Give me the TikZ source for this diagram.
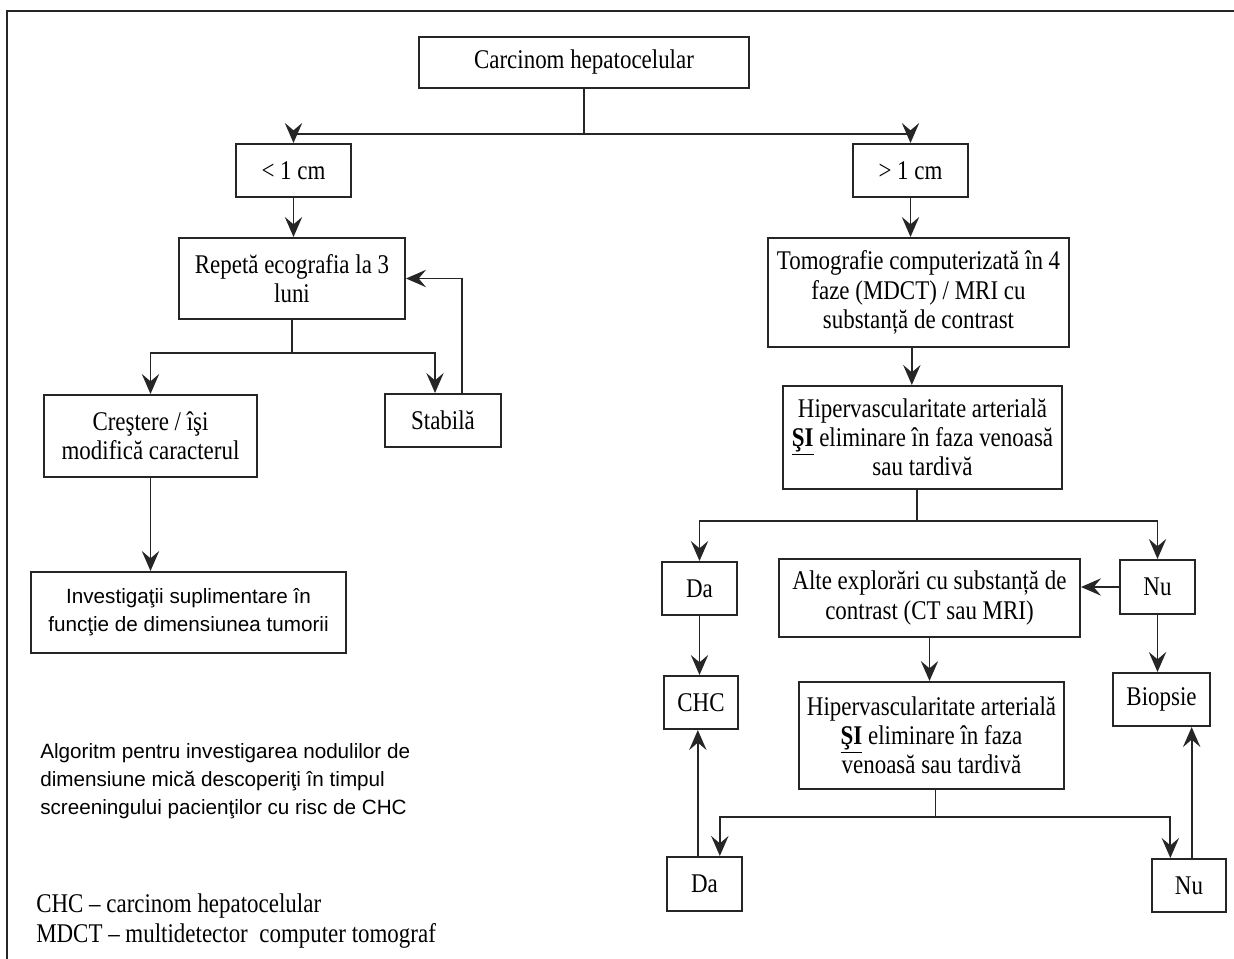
\documentclass[tikz,border=0pt]{standalone}
\usepackage{fontspec}
\setmainfont[FakeStretch=0.85]{Liberation Serif}
\setsansfont{Liberation Sans}
\usetikzlibrary{arrows.meta}
\newcommand\bxfont{\fontsize{20.25pt}{21.9pt}\selectfont}
\newcommand\sfbxfont{\sffamily\fontsize{15.5pt}{21pt}\selectfont}
\begin{document}
\begin{tikzpicture}[x=0.75pt,y=-0.75pt,
  box/.style 2 args={draw=black!85,line width=1.5pt,inner sep=0pt,align=center,font=\bxfont,
    minimum width={#1*0.75pt},minimum height={#2*0.75pt}},
  ln/.style={draw=black!85,line width=1.4pt},
  arr/.style={draw=black!85,line width=1.4pt,-{Stealth[length=15pt,width=13pt,inset=5.5pt]}},
  txt/.style={inner sep=0pt,align=left}]
\useasboundingbox (0,0) rectangle (1234,959);
% frame
\draw[ln] (7,959) -- (7,11) -- (1234,11);

% nodes
\node[box={330}{51}] (carc) at (584,62.5) {Carcinom hepatocelular};
\node[box={115}{53}] (lt1) at (293.5,170.5) {< 1 cm};
\node[box={115}{53}] (gt1) at (910.5,170.5) {> 1 cm};
\node[box={226}{81}] (rep) at (292,278.5) {Repetă ecografia la 3\\luni};
\node[box={301}{109}] (tom) at (918.5,292.5) {Tomografie computerizată în 4\\faze (MDCT) / MRI cu\\substanță de contrast};
\node[box={213}{82}] (cre) at (150.5,436) {Creştere / îşi\\modifică caracterul};
\node[box={116}{53}] (stab) at (443,420.5) {Stabilă};
\node[box={315}{81},font=\sfbxfont] (inv) at (188.5,612.5) {Investigaţii suplimentare în\\funcţie de dimensiunea tumorii};
\node[box={279}{103}] (hip1) at (922.5,437.5) {Hipervascularitate arterială\\\underline{\textbf{ŞI}} eliminare în faza venoasă\\sau tardivă};
\node[box={75}{53}] (da1) at (699.5,588.5) {Da};
\node[box={301}{78}] (alte) at (929.5,598) {Alte explorări cu substanță de\\contrast (CT sau MRI)};
\node[box={75}{54}] (nu1) at (1157.5,587) {Nu};
\node[box={74}{53}] (chc) at (701,702.5) {CHC};
\node[box={265}{107}] (hip2) at (931.5,735.5) {Hipervascularitate arterială\\\underline{\textbf{ŞI}} eliminare în faza\\venoasă sau tardivă};
\node[box={97}{53}] (bio) at (1161.5,699.5) {Biopsie};
\node[box={75}{54}] (da2) at (704.5,884) {Da};
\node[box={74}{53}] (nu2) at (1189,885.5) {Nu};

% texts
\node[txt,anchor=north west,font={\sffamily\fontsize{15.5pt}{21.2pt}\selectfont}] (alg) at (40,743)
  {Algoritm pentru investigarea nodulilor de\\dimensiune mică descoperiţi în timpul\\screeningului pacienţilor cu risc de CHC};
\node[txt,anchor=base west,font=\bxfont] (lg1) at (36,912) {CHC – carcinom hepatocelular};
\node[txt,anchor=base west,font=\bxfont] (lg2) at (36,942) {MDCT – multidetector~ computer tomograf};

% connectors
\draw[ln] (carc.south) -- ++(0,45) coordinate (t1);
\draw[arr] (t1) -| (lt1.north);
\draw[arr] (t1) -| (gt1.north);
\draw[arr] (lt1.south) -- (lt1.south |- rep.north);
\draw[ln] (rep.south) -- ++(0,33) coordinate (t2);
\draw[arr] (t2) -| (cre.north);
\draw[arr] (t2) -| ([xshift=-6pt]stab.north);
\draw[arr] ([xshift=14pt]stab.north) |- (rep.east);
\draw[arr] (cre.south) -- (cre.south |- inv.north);

\draw[arr] (gt1.south) -- (gt1.south |- tom.north);
\draw[arr] ([xshift=-5pt]tom.south) -- ([xshift=-5pt]tom.south |- hip1.north);
\draw[ln] ([xshift=-4pt]hip1.south) -- ++(0,31) coordinate (t3);
\draw[arr] (t3) -| (da1.north);
\draw[arr] (t3) -| (nu1.north);
\draw[arr] (nu1.west) -- (nu1.west -| alte.east);
\draw[arr] (da1.south) -- (da1.south |- chc.north);
\draw[arr] (nu1.south) -- (nu1.south |- bio.north);
\draw[arr] (alte.south) -- (alte.south |- hip2.north);
\draw[ln] ([xshift=3pt]hip2.south) -- ++(0,27) coordinate (t4);
\draw[arr] (t4) -| ([xshift=11.5pt]da2.north);
\draw[arr] (t4) -| ([xshift=-14pt]nu2.north);
\draw[arr] ([xshift=-5pt]da2.north) -- ([xshift=-5pt]da2.north |- chc.south);
\draw[arr] ([xshift=2pt]nu2.north) -- ([xshift=2pt]nu2.north |- bio.south);
\end{tikzpicture}
\end{document}
